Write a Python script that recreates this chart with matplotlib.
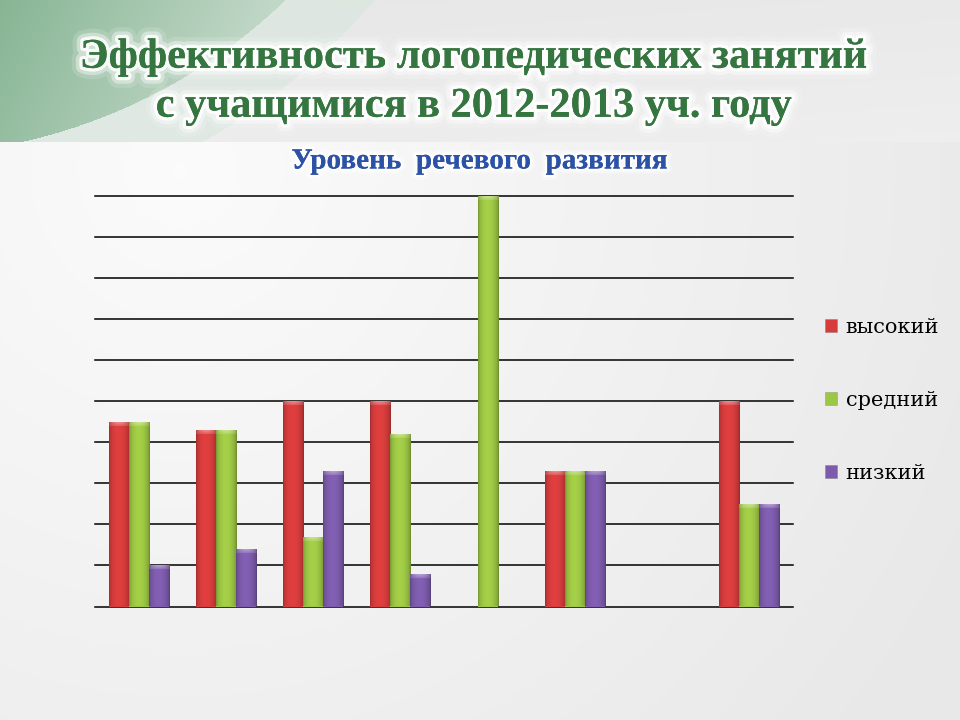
import numpy as np
import matplotlib
matplotlib.use("Agg")
import matplotlib.pyplot as plt
import matplotlib.patheffects as pe
from matplotlib.patches import Patch

# data (percent of pupils per level, 8 groups, 7th empty)
levels = ["высокий", "средний", "низкий"]
high = [45, 43, 50, 50, 0, 33, 0, 50]
mid = [45, 43, 17, 42, 100, 33, 0, 25]
low = [10, 14, 33, 8, 0, 33, 0, 25]
yticks = list(range(0, 101, 10))

title = "Эффективность логопедических занятий\nс учащимися в 2012-2013 уч. году"
subtitle = "Уровень  речевого  развития"

COLORS = ["#d63c3c", "#9dc644", "#7c5bab"]

W, H = 960, 720


def make_background():
    yy, xx = np.mgrid[0:H, 0:W].astype(float)
    # lower part: soft radial light
    d = np.hypot(xx - 180, yy - 170) / 900.0
    g = 0.985 - 0.075 * np.clip(d, 0, 1)
    img = np.dstack([g, g, g])
    # top band
    band = yy < 142
    tb = 0.905 + 0.02 * (yy / 142.0) + 0.01 * (xx / W)
    for c in range(3):
        img[..., c] = np.where(band, tb, img[..., c])
    # green corner
    r = np.hypot(xx + 100, yy + 400)
    inner = (r < 555) & band
    outer = (r >= 555) & (r < 620) & band
    t = np.clip((xx + yy * 0.5) / 330.0, 0, 1)
    green = np.array([0.53, 0.71, 0.58])
    light = np.array([0.80, 0.87, 0.82])
    col = green[None, None, :] * (1 - t[..., None]) + light[None, None, :] * t[..., None]
    img[inner] = col[inner]
    band2 = np.array([0.84, 0.90, 0.86])
    img[outer] = img[outer] * 0.45 + band2 * 0.55
    return np.clip(img, 0, 1)


def shade_bar(ax, patch, color):
    x0, w, h = patch.get_x(), patch.get_width(), patch.get_height()
    if h <= 0:
        return
    base = np.array(matplotlib.colors.to_rgb(color))
    u = np.linspace(0, 1, 40)
    prof = 0.74 + 0.34 * np.sin(np.pi * u) ** 0.5 - 0.06 * u
    rows = max(int(h * 4.1), 8)
    img = np.ones((rows, 40, 3)) * base[None, None, :] * prof[None, :, None]
    cap = min(5, rows // 2)
    lens = np.sin(np.pi * u) ** 0.8
    for k in range(cap):
        a = 0.35 * lens * (1 - k / cap) + 0.1
        img[k] = img[k] * (1 - a[:, None]) + a[:, None]
    img = np.clip(img, 0, 1)
    im = ax.imshow(img, extent=(x0, x0 + w, 0, h), origin="upper",
                   aspect="auto", zorder=3, interpolation="bilinear")
    im.set_clip_path(patch)


fig = plt.figure(figsize=(9.6, 7.2), dpi=100)
bg = fig.add_axes([0, 0, 1, 1], zorder=-10)
bg.imshow(make_background(), aspect="auto", interpolation="bilinear")
bg.axis("off")

ax = fig.add_axes([95 / W, 113.5 / H, 698 / W, 410.5 / H])
ax.patch.set_alpha(0)
x = np.arange(len(high))
bw = 0.23
for i, (vals, col) in enumerate(zip([high, mid, low], COLORS)):
    bars = ax.bar(x + (i - 1) * bw, vals, bw, color=col, zorder=2, linewidth=0)
    for p in bars:
        shade_bar(ax, p, col)

ax.set_xlim(-0.5, len(high) - 0.5)
ax.set_ylim(0, 100)
ax.set_yticks(yticks)
ax.set_xticks([])
ax.tick_params(left=False, labelleft=False)
ax.yaxis.grid(True, color="black", linewidth=1.1)
ax.set_axisbelow(True)
for s in ax.spines.values():
    s.set_visible(False)
for gl in ax.get_ygridlines():
    gl.set_clip_on(False)

handles = [Patch(facecolor=c, edgecolor="#55555555", linewidth=0.5, label=l)
           for c, l in zip(COLORS, levels)]
fig.legend(handles=handles, loc="upper left", bbox_to_anchor=(806 / W, 1 - 299 / H),
           frameon=False, prop=dict(family="DejaVu Serif", size=15),
           handlelength=0.6, handleheight=0.6, handletextpad=0.4, labelspacing=2.6)

glow = [pe.withStroke(linewidth=16, foreground="white", alpha=0.15),
        pe.withStroke(linewidth=10, foreground="white", alpha=0.4),
        pe.withStroke(linewidth=5, foreground="white", alpha=0.85),
        pe.Normal()]
fig.text(474 / W, 1 - 82 / H, title, ha="center", va="center", fontsize=30.5,
         family="Liberation Serif", weight="bold", color="#35753f",
         linespacing=1.38, path_effects=glow)
sub_glow = [pe.withStroke(linewidth=7, foreground="white", alpha=0.4),
            pe.withStroke(linewidth=3.5, foreground="white", alpha=0.9),
            pe.Normal()]
fig.text(479 / W, 1 - 161 / H, subtitle, ha="center", va="center", fontsize=21,
         family="Liberation Serif", weight="bold", color="#2c52a6",
         path_effects=sub_glow)

fig.savefig("out.png", dpi=100)
